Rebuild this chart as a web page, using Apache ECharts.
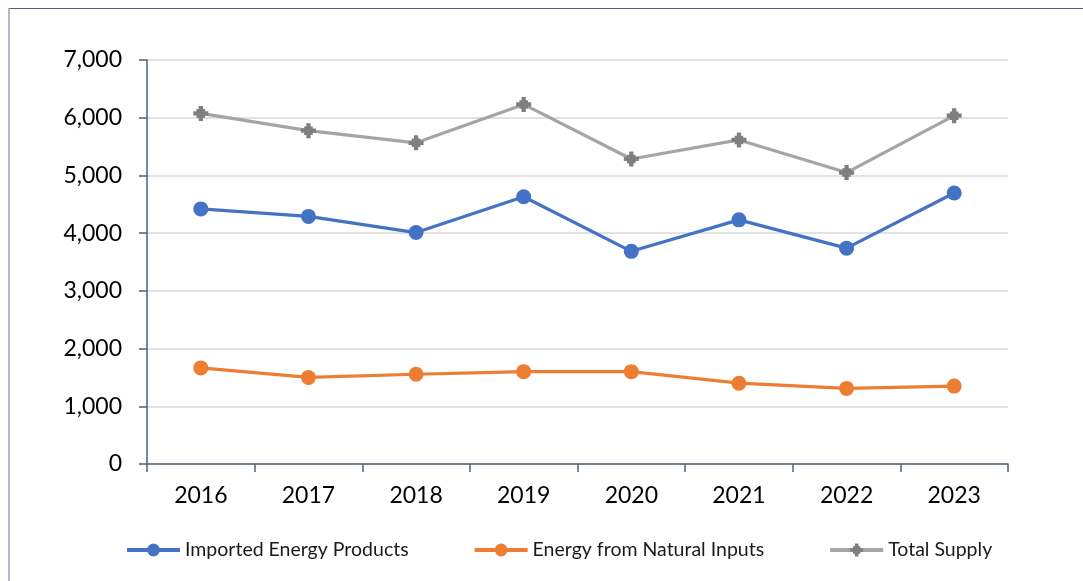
<!DOCTYPE html>
<html>
<head>
<meta charset="utf-8">
<script src="https://cdn.jsdelivr.net/npm/echarts@6/dist/echarts.min.js"></script>
<style>
  html, body { margin: 0; padding: 0; background: #fff; }
  #chart { width: 1083px; height: 581px; }
</style>
</head>
<body>
<div id="chart"></div>
<script>
// data
const years = ['2016', '2017', '2018', '2019', '2020', '2021', '2022', '2023'];
const imported = [4420, 4290, 4010, 4630, 3685, 4230, 3740, 4695];
const natural = [1665, 1500, 1555, 1600, 1600, 1400, 1310, 1350];
const total = [6075, 5775, 5565, 6230, 5285, 5615, 5050, 6035];
const yTicks = { min: 0, max: 7000, interval: 1000 };

const plusMark = 'path://M5,0H9V3H11V5H14V9H11V11H9V14H5V11H3V9H0V5H3V3H5Z';
const font = 'Lato, "Liberation Sans", sans-serif';

const myChart = echarts.init(document.getElementById('chart'));

function lineSeries(name, data, lineColor, markColor, symbol) {
  return {
    name: name,
    type: 'line',
    data: data,
    symbol: symbol,
    symbolSize: 15,
    lineStyle: { color: lineColor, width: 3.2 },
    itemStyle: { color: markColor },
    z: 3
  };
}

const option = {
  animation: false,
  backgroundColor: '#fff',
  textStyle: { fontFamily: font },
  grid: { left: 147, top: 60, right: 75, bottom: 117, containLabel: false },
  legend: {
    bottom: 16,
    left: 120,
    itemWidth: 53,
    itemHeight: 16,
    itemGap: 64,
    lineStyle: { width: 4 },
    textStyle: { fontSize: 19.5, color: '#1a1a1a', fontFamily: font },
    data: ['Imported Energy Products', 'Energy from Natural Inputs', 'Total Supply']
  },
  xAxis: {
    type: 'category',
    data: years,
    boundaryGap: true,
    axisLine: { lineStyle: { color: '#4f5f78', width: 1.5 } },
    axisTick: { show: true, length: 8, alignWithLabel: false, lineStyle: { color: '#4f5f78', width: 1.5 } },
    axisLabel: { fontSize: 23, color: '#000', margin: 20, fontFamily: font }
  },
  yAxis: {
    type: 'value',
    min: yTicks.min,
    max: yTicks.max,
    interval: yTicks.interval,
    axisLine: { show: true, lineStyle: { color: '#4f5f78', width: 1.5 } },
    axisTick: { show: true, length: 8, lineStyle: { color: '#4f5f78', width: 1.5 } },
    axisLabel: {
      fontSize: 23,
      color: '#000',
      margin: 25,
      fontFamily: font,
      formatter: function (v) { return v.toLocaleString('en-US'); }
    },
    splitLine: { lineStyle: { color: '#d9d9d9', width: 1.5 } }
  },
  graphic: [
    { type: 'line', shape: { x1: 9, y1: 8.5, x2: 1083, y2: 8.5 }, style: { stroke: '#4f5f78', lineWidth: 1.2 } },
    { type: 'line', shape: { x1: 9, y1: 8, x2: 9, y2: 581 }, style: { stroke: '#95a1b3', lineWidth: 1.5 } }
  ],
  series: [
    lineSeries('Imported Energy Products', imported, '#4472c4', '#4472c4', 'circle'),
    lineSeries('Energy from Natural Inputs', natural, '#ed7d31', '#ed7d31', 'circle'),
    lineSeries('Total Supply', total, '#a5a5a5', '#7f7f7f', plusMark)
  ]
};

myChart.setOption(option);
</script>
</body>
</html>
